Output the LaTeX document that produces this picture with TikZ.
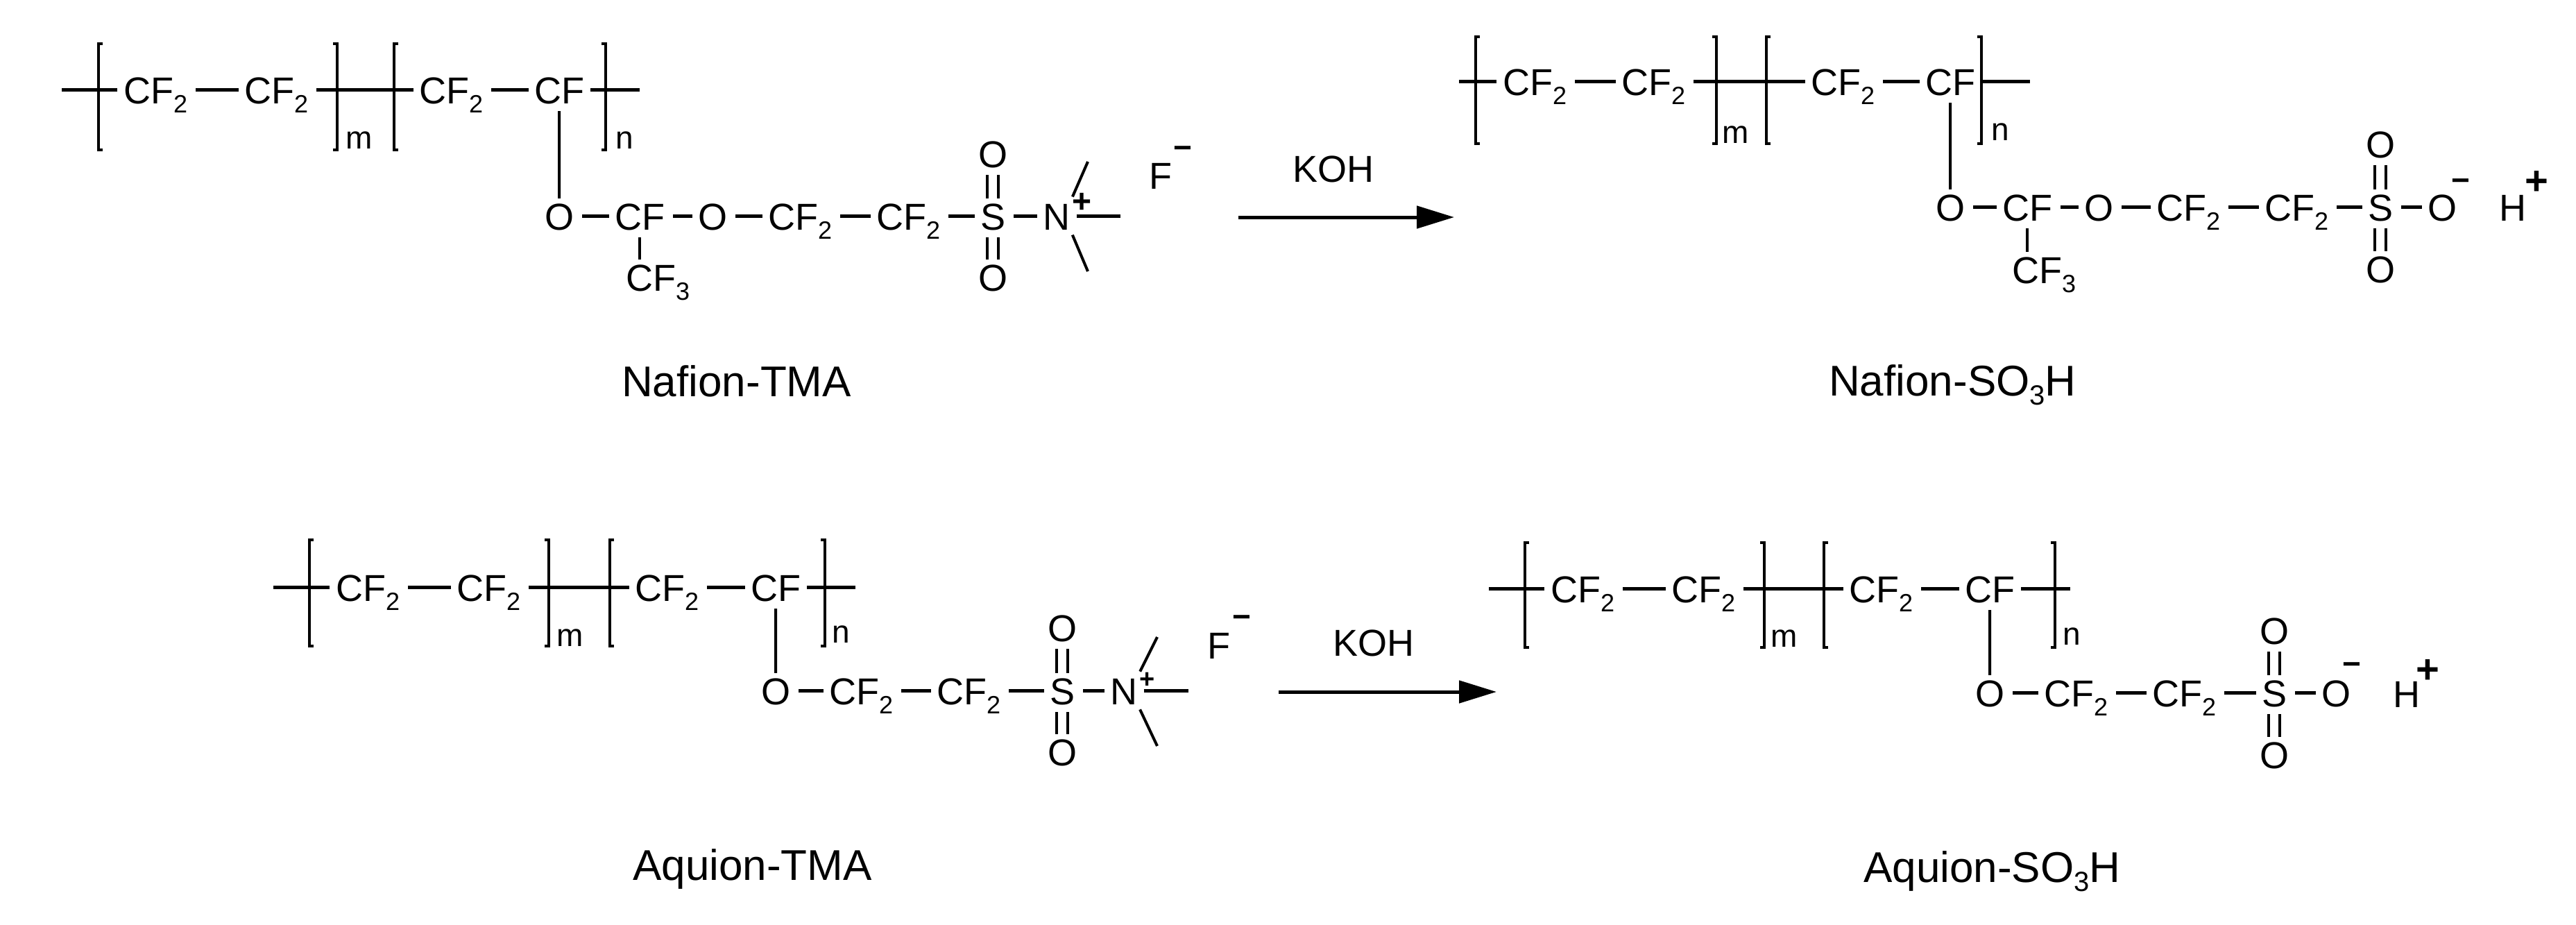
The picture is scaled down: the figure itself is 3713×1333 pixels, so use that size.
\documentclass[tikz,border=0pt]{standalone}
\usepackage{fontspec}
\setmainfont{Liberation Sans}
\usetikzlibrary{arrows.meta}
\newcommand{\chemsub}[1]{\raisebox{-13pt}{\fontsize{36}{40}\selectfont #1}}
\newcommand{\titlesub}[1]{\raisebox{-13pt}{\fontsize{40}{44}\selectfont #1}}
\tikzset{
  chemgroup/.style={anchor=west,inner sep=0pt,text height=40pt,text depth=0pt,font=\fontsize{54}{60}\selectfont},
  chematom/.style={chemgroup,anchor=center},
  chemcharge/.style={inner sep=0pt,font=\bfseries\fontsize{#1}{#1}\selectfont},
  chemcharge/.default=46,
  chemindex/.style={anchor=base west,inner sep=0pt,font=\fontsize{46}{50}\selectfont},
  chemlabel/.style={anchor=base west,inner sep=0pt,font=\fontsize{62}{70}\selectfont},
  chembond/.style={draw=black,line width=5pt,shorten <=12pt,shorten >=8pt},
  chemdown/.style={draw=black,line width=4pt,shorten <=11pt,shorten >=5pt},
  chemstub/.style={draw=black,line width=5pt,shorten <=9pt},
  chemslant/.style={draw=black,line width=4pt,shorten <=8pt},
  chembracket/.style={draw=black,line width=4.5pt},
  chemarrow/.style={-{Triangle[length=54pt,width=32pt]},draw=black,line width=5pt}
}
\begin{document}
\begin{tikzpicture}[x=1pt,y=-1pt]
\useasboundingbox (0,0) rectangle (3713,1333);

\coordinate (a0) at (89,129);
\node[chemgroup] (a1) at (178,129) {CF\chemsub{2}};
\node[chemgroup] (a2) at (352,129) {CF\chemsub{2}};
\node[chemgroup] (a3) at (604,129) {CF\chemsub{2}};
\node[chemgroup] (a4) at (770,129) {CF};
\coordinate (a5) at (922,129);
\node[chematom] (a6) at (806,311) {O};
\node[chemgroup] (a7) at (886,311) {CF};
\node[chematom] (a8) at (1027,311) {O};
\node[chemgroup] (a9) at (1107,311) {CF\chemsub{2}};
\node[chemgroup] (a10) at (1263,311) {CF\chemsub{2}};
\node[chematom] (a11) at (1431,311) {S};
\node[chematom] (a12) at (1523,311) {N};
\node[chematom] (a13) at (1431,221) {O};
\node[chematom] (a14) at (1431,399) {O};
\node[chemgroup] (a15) at (902,399) {CF\chemsub{3}};
\coordinate (a16) at (1568,233);
\coordinate (a17) at (1568,391);
\coordinate (a18) at (1615,311);
\node[chemindex] (am) at (498,214) {m};
\node[chemindex] (an) at (887,214) {n};
\node[chemcharge=48] (aplus) at (1559,292) {+};
\node[chematom] (af) at (1673,252) {F};
\node[chemcharge] (aminus) at (1705,220) {−};
\node[chemlabel] (atitle) at (896,571) {Nafion-TMA};

\draw[chembracket] (148,63) -- (142,63) -- (142,216) -- (148,216);
\draw[chembracket] (480,63) -- (486,63) -- (486,216) -- (480,216);
\draw[chembracket] (574,63) -- (568,63) -- (568,216) -- (574,216);
\draw[chembracket] (867,63) -- (873,63) -- (873,216) -- (867,216);

\path [chemstub] (a1.west) edge (a0);
\path [chembond] (a1.east) edge (a2.west);
\path [chembond] (a2.east) edge (a3.west);
\path [chembond] (a3.east) edge (a4.west);
\path [chemstub] (a4.east) edge (a5);
\path [chemdown] (a4.south) edge (a6.north);
\path [chembond] (a6.east) edge (a7.west);
\path [chembond] (a7.east) edge (a8.west);
\path [chembond] (a8.east) edge (a9.west);
\path [chembond] (a9.east) edge (a10.west);
\path [chembond] (a10.east) edge (a11.west);
\path [chembond] (a11.east) edge (a12.west);
\path [chemdown] (a7.south) edge (a7.south |- a15.north);
\path [chemdown] ([xshift=-8pt]a13.south) edge ([xshift=-8pt]a11.north);
\path [chemdown] ([xshift=8pt]a13.south) edge ([xshift=8pt]a11.north);
\path [chemdown] ([xshift=-8pt]a11.south) edge ([xshift=-8pt]a14.north);
\path [chemdown] ([xshift=8pt]a11.south) edge ([xshift=8pt]a14.north);
\path [chemslant] (a12.north east) edge (a16);
\path [chemslant] (a12.south east) edge (a17);
\path [chemstub] (a12.east) edge (a18);

\coordinate (r1) at (1785,313);
\coordinate (r2) at (2096,313);
\node[chematom] (r3) at (1922,242) {KOH};
\path (r1) edge[chemarrow] (r2);

\coordinate (b0) at (2103,117);
\node[chemgroup] (b1) at (2166,117) {CF\chemsub{2}};
\node[chemgroup] (b2) at (2337,117) {CF\chemsub{2}};
\node[chemgroup] (b3) at (2610,117) {CF\chemsub{2}};
\node[chemgroup] (b4) at (2775,117) {CF};
\coordinate (b5) at (2926,117);
\node[chematom] (b6) at (2811,298) {O};
\node[chemgroup] (b7) at (2886,298) {CF};
\node[chematom] (b8) at (3025,298) {O};
\node[chemgroup] (b9) at (3108,298) {CF\chemsub{2}};
\node[chemgroup] (b10) at (3264,298) {CF\chemsub{2}};
\node[chematom] (b11) at (3431,298) {S};
\node[chematom] (b12) at (3520,298) {O};
\node[chematom] (b13) at (3431,207) {O};
\node[chematom] (b14) at (3431,387) {O};
\node[chemgroup] (b15) at (2900,388) {CF\chemsub{3}};
\node[chemindex] (bm) at (2482,206) {m};
\node[chemindex] (bn) at (2870,202) {n};
\node[chemcharge] (bminus) at (3547,267) {−};
\node[chematom] (bh) at (3622,298) {H};
\node[chemcharge=58] (bplus) at (3656,263) {+};
\node[chemlabel] (btitle) at (2636,570) {Nafion-SO\titlesub{3}H};

\draw[chembracket] (2133,53) -- (2127,53) -- (2127,207) -- (2133,207);
\draw[chembracket] (2468,53) -- (2474,53) -- (2474,207) -- (2468,207);
\draw[chembracket] (2552,53) -- (2546,53) -- (2546,207) -- (2552,207);
\draw[chembracket] (2850,53) -- (2856,53) -- (2856,207) -- (2850,207);

\path [chemstub] (b1.west) edge (b0);
\path [chembond] (b1.east) edge (b2.west);
\path [chembond] (b2.east) edge (b3.west);
\path [chembond] (b3.east) edge (b4.west);
\path [chemstub] (b4.east) edge (b5);
\path [chemdown] (b4.south) edge (b6.north);
\path [chembond] (b6.east) edge (b7.west);
\path [chembond] (b7.east) edge (b8.west);
\path [chembond] (b8.east) edge (b9.west);
\path [chembond] (b9.east) edge (b10.west);
\path [chembond] (b10.east) edge (b11.west);
\path [chembond] (b11.east) edge (b12.west);
\path [chemdown] (b7.south) edge (b7.south |- b15.north);
\path [chemdown] ([xshift=-8pt]b13.south) edge ([xshift=-8pt]b11.north);
\path [chemdown] ([xshift=8pt]b13.south) edge ([xshift=8pt]b11.north);
\path [chemdown] ([xshift=-8pt]b11.south) edge ([xshift=-8pt]b14.north);
\path [chemdown] ([xshift=8pt]b11.south) edge ([xshift=8pt]b14.north);

\coordinate (c0) at (394,846);
\node[chemgroup] (c1) at (484,846) {CF\chemsub{2}};
\node[chemgroup] (c2) at (658,846) {CF\chemsub{2}};
\node[chemgroup] (c3) at (915,846) {CF\chemsub{2}};
\node[chemgroup] (c4) at (1082,846) {CF};
\coordinate (c5) at (1233,846);
\node[chematom] (c6) at (1118,995) {O};
\node[chemgroup] (c7) at (1195,995) {CF\chemsub{2}};
\node[chemgroup] (c8) at (1350,995) {CF\chemsub{2}};
\node[chematom] (c9) at (1531,995) {S};
\node[chematom] (c10) at (1620,995) {N};
\node[chematom] (c11) at (1531,904) {O};
\node[chematom] (c12) at (1531,1083) {O};
\coordinate (c13) at (1668,918);
\coordinate (c14) at (1668,1075);
\coordinate (c15) at (1713,995);
\node[chemindex] (cm) at (802,931) {m};
\node[chemindex] (cn) at (1199,926) {n};
\node[chemcharge=38] (cplus) at (1654,980) {+};
\node[chematom] (cf) at (1757,929) {F};
\node[chemcharge] (cminus) at (1790,896) {−};
\node[chemlabel] (ctitle) at (912,1268) {Aquion-TMA};

\draw[chembracket] (452,778) -- (446,778) -- (446,931) -- (452,931);
\draw[chembracket] (785,778) -- (791,778) -- (791,931) -- (785,931);
\draw[chembracket] (885,778) -- (879,778) -- (879,931) -- (885,931);
\draw[chembracket] (1183,778) -- (1189,778) -- (1189,931) -- (1183,931);

\path [chemstub] (c1.west) edge (c0);
\path [chembond] (c1.east) edge (c2.west);
\path [chembond] (c2.east) edge (c3.west);
\path [chembond] (c3.east) edge (c4.west);
\path [chemstub] (c4.east) edge (c5);
\path [chemdown] (c4.south) edge (c6.north);
\path [chembond] (c6.east) edge (c7.west);
\path [chembond] (c7.east) edge (c8.west);
\path [chembond] (c8.east) edge (c9.west);
\path [chembond] (c9.east) edge (c10.west);
\path [chemdown] ([xshift=-8pt]c11.south) edge ([xshift=-8pt]c9.north);
\path [chemdown] ([xshift=8pt]c11.south) edge ([xshift=8pt]c9.north);
\path [chemdown] ([xshift=-8pt]c9.south) edge ([xshift=-8pt]c12.north);
\path [chemdown] ([xshift=8pt]c9.south) edge ([xshift=8pt]c12.north);
\path [chemslant] (c10.north east) edge (c13);
\path [chemslant] (c10.south east) edge (c14);
\path [chemstub] (c10.east) edge (c15);

\coordinate (s1) at (1843,997);
\coordinate (s2) at (2157,997);
\node[chematom] (s3) at (1980,925) {KOH};
\path (s1) edge[chemarrow] (s2);

\coordinate (d0) at (2146,848);
\node[chemgroup] (d1) at (2235,848) {CF\chemsub{2}};
\node[chemgroup] (d2) at (2409,848) {CF\chemsub{2}};
\node[chemgroup] (d3) at (2665,848) {CF\chemsub{2}};
\node[chemgroup] (d4) at (2832,848) {CF};
\coordinate (d5) at (2984,848);
\node[chematom] (d6) at (2868,998) {O};
\node[chemgroup] (d7) at (2946,998) {CF\chemsub{2}};
\node[chemgroup] (d8) at (3102,998) {CF\chemsub{2}};
\node[chematom] (d9) at (3278,998) {S};
\node[chematom] (d10) at (3367,998) {O};
\node[chematom] (d11) at (3278,908) {O};
\node[chematom] (d12) at (3278,1087) {O};
\node[chemindex] (dm) at (2552,932) {m};
\node[chemindex] (dn) at (2973,929) {n};
\node[chemcharge] (dminus) at (3390,964) {−};
\node[chematom] (dh) at (3469,999) {H};
\node[chemcharge=58] (dplus) at (3499,967) {+};
\node[chemlabel] (dtitle) at (2686,1271) {Aquion-SO\titlesub{3}H};

\draw[chembracket] (2204,782) -- (2198,782) -- (2198,933) -- (2204,933);
\draw[chembracket] (2537,782) -- (2543,782) -- (2543,933) -- (2537,933);
\draw[chembracket] (2635,782) -- (2629,782) -- (2629,933) -- (2635,933);
\draw[chembracket] (2956,782) -- (2962,782) -- (2962,933) -- (2956,933);

\path [chemstub] (d1.west) edge (d0);
\path [chembond] (d1.east) edge (d2.west);
\path [chembond] (d2.east) edge (d3.west);
\path [chembond] (d3.east) edge (d4.west);
\path [chemstub] (d4.east) edge (d5);
\path [chemdown] (d4.south) edge (d6.north);
\path [chembond] (d6.east) edge (d7.west);
\path [chembond] (d7.east) edge (d8.west);
\path [chembond] (d8.east) edge (d9.west);
\path [chembond] (d9.east) edge (d10.west);
\path [chemdown] ([xshift=-8pt]d11.south) edge ([xshift=-8pt]d9.north);
\path [chemdown] ([xshift=8pt]d11.south) edge ([xshift=8pt]d9.north);
\path [chemdown] ([xshift=-8pt]d9.south) edge ([xshift=-8pt]d12.north);
\path [chemdown] ([xshift=8pt]d9.south) edge ([xshift=8pt]d12.north);
\end{tikzpicture}
\end{document}
